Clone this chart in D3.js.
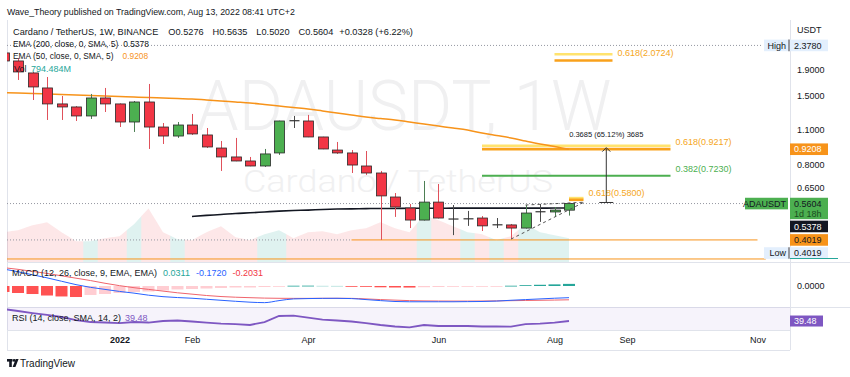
<!DOCTYPE html>
<html lang="en">
<head>
<meta charset="UTF-8">
<title>ADAUSDT, 1W</title>
<style>
  body { margin: 0; background: #ffffff; }
  svg { display: block; font-family: "Liberation Sans", Arial, sans-serif; }
</style>
</head>
<body>
<div id="chart"></div>
<script src="https://d3js.org/d3.v7.min.js"></script>
<script>
// weekly bars
var weeks = ["2021-11-08", "2021-11-15", "2021-11-22", "2021-11-29", "2021-12-06", "2021-12-13", "2021-12-20", "2021-12-27",
    "2022-01-03", "2022-01-10", "2022-01-17", "2022-01-24", "2022-01-31", "2022-02-07", "2022-02-14", "2022-02-21",
    "2022-02-28", "2022-03-07", "2022-03-14", "2022-03-21", "2022-03-28", "2022-04-04", "2022-04-11", "2022-04-18",
    "2022-04-25", "2022-05-02", "2022-05-09", "2022-05-16", "2022-05-23", "2022-05-30", "2022-06-06", "2022-06-13",
    "2022-06-20", "2022-06-27", "2022-07-04", "2022-07-11", "2022-07-18", "2022-07-25", "2022-08-01", "2022-08-08"];
var opens = [2.22, 2.063, 1.849, 1.612, 1.393, 1.355, 1.248, 1.471, 1.393, 1.181, 1.418, 1.128, 1.039, 1.149, 1.049, 0.931,
    0.858, 0.827, 0.790, 0.890, 1.198, 1.192, 1.030, 0.914, 0.890, 0.790, 0.741, 0.595, 0.538, 0.482, 0.568, 0.487,
    0.487, 0.491, 0.461, 0.461, 0.448, 0.519, 0.519, 0.5276];
var highs = [2.378, 2.120, 1.866, 1.782, 1.498, 1.367, 1.526, 1.612, 1.400, 1.431, 1.672, 1.170, 1.181, 1.271, 1.118, 0.993,
    1.021, 0.858, 0.923, 1.195, 1.248, 1.260, 1.032, 0.984, 0.914, 0.906, 0.755, 0.617, 0.558, 0.689, 0.670, 0.553,
    0.524, 0.500, 0.491, 0.465, 0.553, 0.558, 0.543, 0.5635];
var lows = [1.96, 1.734, 1.444, 1.203, 1.203, 1.192, 1.214, 1.294, 1.128, 1.078, 0.923, 0.966, 1.021, 1.049, 0.931, 0.755,
    0.825, 0.788, 0.783, 0.874, 1.118, 1.028, 0.921, 0.882, 0.741, 0.728, 0.4019, 0.496, 0.448, 0.480, 0.489, 0.420,
    0.457, 0.436, 0.448, 0.405, 0.446, 0.474, 0.496, 0.5020];
var closes = [2.063, 1.866, 1.627, 1.393, 1.355, 1.248, 1.471, 1.393, 1.181, 1.418, 1.128, 1.039, 1.149, 1.059, 0.940, 0.858,
    0.827, 0.790, 0.882, 1.192, 1.192, 1.030, 0.923, 0.890, 0.797, 0.741, 0.601, 0.543, 0.482, 0.568, 0.491, 0.486,
    0.488, 0.457, 0.462, 0.448, 0.514, 0.521, 0.528, 0.5604];
var volumes = [993.2, 1059.4, 1225.1, 1324.6, 993.0, 695.3, 695.8, 794.1, 861.5, 1258.2, 1787.4, 993.7, 761.2, 728.9, 993.4, 1192.6,
    828.3, 728.1, 927.5, 1059.0, 794.6, 993.9, 1026.3, 927.2, 1059.8, 1125.5, 1324.2, 1125.1, 993.6, 1556.3, 1390.7, 1192.4,
    993.1, 927.8, 728.4, 861.0, 1258.9, 993.3, 894.2, 794.484];
var ema50 = [1.545, 1.540, 1.532, 1.526, 1.519, 1.512, 1.505, 1.498, 1.491, 1.484, 1.478, 1.471, 1.464, 1.458, 1.444, 1.431,
    1.418, 1.405, 1.386, 1.367, 1.348, 1.330, 1.306, 1.282, 1.259, 1.236, 1.219, 1.203, 1.181, 1.159, 1.138, 1.118,
    1.097, 1.068, 1.044, 1.021, 0.993, 0.966, 0.945, 0.9208];
var ema200 = [null, null, null, null, null, null, null, null, null, null, null, null, null, 0.498, 0.503, 0.507,
    0.512, 0.515, 0.519, 0.523, 0.526, 0.528, 0.531, 0.533, 0.534, 0.535, 0.536, 0.536, 0.537, 0.537, 0.537, 0.5375,
    0.5375, 0.5375, 0.5376, 0.5376, 0.5377, 0.5377, 0.5378, 0.5378];
var macdHist = [-0.088, -0.103, -0.118, -0.140, -0.154, -0.162, -0.132, -0.118, -0.103, -0.088, -0.081, -0.066, -0.051, -0.044, -0.037, -0.029,
    -0.022, -0.022, -0.015, -0.007, 0.004, 0.005, 0.003, 0.002, -0.002, -0.012, -0.019, -0.022, -0.023, -0.018, -0.015, -0.012,
    -0.009, -0.006, -0.003, 0.004, 0.012, 0.018, 0.024, 0.0311];
var macdLine = [0.25, 0.21, 0.165, 0.12, 0.07, 0.02, -0.02, -0.05, -0.08, -0.105, -0.135, -0.157, -0.17, -0.18, -0.195, -0.21,
    -0.225, -0.238, -0.245, -0.215, -0.19, -0.185, -0.182, -0.181, -0.185, -0.2, -0.215, -0.228, -0.232, -0.232, -0.232, -0.232,
    -0.23, -0.228, -0.222, -0.21, -0.2, -0.19, -0.18, -0.172];
var macdSignal = [0.27, 0.245, 0.215, 0.185, 0.15, 0.115, 0.08, 0.04, 0.005, -0.025, -0.05, -0.075, -0.1, -0.12, -0.14, -0.155,
    -0.165, -0.172, -0.178, -0.181, -0.182, -0.182, -0.181, -0.181, -0.182, -0.19, -0.2, -0.208, -0.215, -0.219, -0.221, -0.222,
    -0.222, -0.221, -0.219, -0.216, -0.213, -0.21, -0.207, -0.2031];
var rsiValues = [58.4, 55.3, 52.1, 49.0, 45.8, 41.0, 37.9, 37.1, 36.3, 37.9, 37.1, 39.5, 40.3, 38.7, 37.1, 35.5,
    34.7, 33.2, 37.9, 47.4, 47.9, 45.0, 41.8, 40.3, 38.7, 36.3, 33.2, 30.8, 29.5, 33.2, 31.6, 31.6,
    31.6, 30.8, 30.8, 30.5, 34.7, 35.5, 37.1, 39.48];

// axis labels
var priceTicks = [1.9, 1.5, 1.1, 0.8, 0.65];
var monthTicks = ["2022-01-03", "2022-02-07", "2022-04-04", "2022-06-06", "2022-08-01", "2022-09-05", "2022-11-07"];
var monthLabels = ["2022", "Feb", "Apr", "Jun", "Aug", "Sep", "Nov"];

// drawings on the chart
var fibRatios = ["0.65", "0.618", "0.65", "0.618", "0.382", "0.65", "0.618"];
var fibPrices = [2.1930, 2.0724, 0.9510, 0.9217, 0.7230, 0.5890, 0.5800];
var fibFrom = ["2022-08-01", "2022-08-01", "2022-06-27", "2022-06-27", "2022-06-27", "2022-08-08", "2022-08-08"];
var fibTo = ["2022-08-29", "2022-08-29", "2022-09-26", "2022-09-26", "2022-09-26", "2022-08-15", "2022-08-15"];
var hLinePrices = [0.4019, 0.3377];
var hLineFrom = ["2022-04-25", "2021-11-01"];
var hLineTo = ["2022-11-07", "2022-11-11"];
var wedgeLower = [["2022-07-11", 0.405], ["2022-08-15", 0.566]];
var wedgeUpper = [["2022-07-18", 0.553], ["2022-08-15", 0.567]];
var measureDate = "2022-08-26";
var measureFrom = 0.5659, measureTo = 0.9344;
var measureText = "0.3685 (65.12%) 3685";

// layout
var left = 7, right = 790;
var mainTop = 20, mainBottom = 262;
var macdTop = 262, macdBottom = 307;
var rsiTop = 307, rsiBottom = 330, axisBottom = 350;

var ink = "#131722", line = "#e0e3eb";
var upCol = "#4caf50", downCol = "#f23645", emaCol = "#f7931a";

var parseDate = d3.utcParse("%Y-%m-%d");

var x = d3.scaleUtc().domain([parseDate("2021-11-08"), parseDate("2022-11-07")]).range([3.5, 757.5]);
var y = d3.scaleLog().domain([3.0, 0.3285]).range([mainTop, mainBottom]);
var yVol = d3.scaleLinear().domain([0, 3000]).range([mainBottom, 172]);
var yMacd = d3.scaleLinear().domain([0.353, -0.309]).range([macdTop, macdBottom]);
var yRsi = d3.scaleLinear().domain([61.6, 25.3]).range([rsiTop, rsiBottom]);

var bars = weeks.map(function(w, i) {
    return { date: parseDate(w), o: opens[i], h: highs[i], l: lows[i], c: closes[i], v: volumes[i],
             e50: ema50[i], e200: ema200[i], hist: macdHist[i], macd: macdLine[i], sig: macdSignal[i], rsi: rsiValues[i] };
});
var step = x(bars[1].date) - x(bars[0].date);
var last = bars[bars.length - 1];

var svg = d3.select("#chart").append("svg")
    .attr("width", 850)
    .attr("height", 377);
var defs = svg.append("defs");

function clipRect(id, x0, y0, x1, y1) {
    defs.append("clipPath").attr("id", id).append("rect")
        .attr("x", x0).attr("y", y0).attr("width", x1 - x0).attr("height", y1 - y0);
}
clipRect("clip-main", left, mainTop, right, mainBottom);
clipRect("clip-macd", left, macdTop, right, macdBottom);
clipRect("clip-rsi", left, rsiTop, right, rsiBottom);

// frame lines
function hline(g, yy, x0, x1, col, dash, w) {
    g.append("line").attr("x1", x0).attr("x2", x1).attr("y1", yy).attr("y2", yy)
        .attr("stroke", col).attr("stroke-width", w || 1).attr("stroke-dasharray", dash || null);
}
svg.append("line").attr("x1", right + 0.5).attr("x2", right + 0.5).attr("y1", mainTop).attr("y2", axisBottom).attr("stroke", line);
svg.append("line").attr("x1", left + 0.5).attr("x2", left + 0.5).attr("y1", mainTop).attr("y2", axisBottom).attr("stroke", line);
hline(svg, macdTop + 0.5, left, 850, line);
hline(svg, rsiTop + 0.5, left, 850, line);
hline(svg, rsiBottom + 0.5, left, right, line);
hline(svg, axisBottom + 0.5, left, right, line);

// main pane
var plot = svg.append("g").attr("clip-path", "url(#clip-main)");

// watermark
plot.append("text")
    .attr("x", 404).attr("y", 130).attr("text-anchor", "middle")
    .attr("font-family", "Roboto, sans-serif").attr("font-weight", 300).attr("font-size", 70)
    .attr("textLength", 415).attr("lengthAdjust", "spacingAndGlyphs")
    .attr("fill", "#f0f0f1").text("ADAUSDT, 1W");
plot.append("text")
    .attr("x", 398).attr("y", 192).attr("text-anchor", "middle")
    .attr("font-family", "Roboto, sans-serif").attr("font-weight", 300).attr("font-size", 31)
    .attr("textLength", 310).attr("lengthAdjust", "spacingAndGlyphs")
    .attr("fill", "#f0f0f1").text("Cardano / TetherUS");

// volume as a shaded area, coloured per bar
var volArea = d3.area()
    .x(function(d) { return x(d.date); })
    .y0(yVol(0))
    .y1(function(d) { return yVol(d.v); });
var volG = plot.append("g");
bars.forEach(function(d, i) {
    var id = "vclip" + i;
    clipRect(id, x(d.date) - step / 2, mainTop, x(d.date) + step / 2, mainBottom);
    volG.append("path").datum(bars)
        .attr("d", volArea)
        .attr("clip-path", "url(#" + id + ")")
        .attr("fill", d.c >= d.o ? "rgba(38,166,154,0.15)" : "rgba(242,54,69,0.12)");
});

// horizontal lines
var hiPrice = d3.max(highs), loPrice = d3.min(lows);
hline(plot, y(hiPrice), left, 763, "#9598a1", "1,2");
hline(plot, y(loPrice), left, x(parseDate(hLineFrom[0])), "#9598a1", "1,2");
hline(plot, y(last.c), left, 744, "#9598a1", "1,2");
hLinePrices.forEach(function(p, i) {
    hline(plot, y(p), x(parseDate(hLineFrom[i])), x(parseDate(hLineTo[i])), emaCol, null, 1);
});

// fib levels
fibPrices.forEach(function(p, i) {
    var r = fibRatios[i];
    var col = r === "0.382" ? "#4caf50" : (r === "0.65" ? "#ffe36e" : "#f9a11b");
    var x0 = x(parseDate(fibFrom[i])), x1 = x(parseDate(fibTo[i]));
    hline(plot, y(p), x0, x1, col, null, r === "0.382" ? 2 : 2.6);
});
// only the readable labels (the 0.65 ones hide under these in the original)
var fibLab = svg.append("g").attr("font-size", 9);
fibPrices.forEach(function(p, i) {
    var r = fibRatios[i];
    if (r === "0.65") return;
    fibLab.append("text")
        .attr("x", x(parseDate(fibTo[i])) + 5)
        .attr("y", y(p) - 4)
        .attr("fill", r === "0.382" ? "#4caf50" : "#f5a623")
        .text(r + "(" + p.toFixed(4) + ")");
});

// emas
var emaLine = function(key) {
    return d3.line()
        .defined(function(d) { return d[key] != null; })
        .x(function(d) { return x(d.date); })
        .y(function(d) { return y(d[key]); })
        .curve(d3.curveMonotoneX);
};
plot.append("path").datum(bars).attr("d", emaLine("e50"))
    .attr("fill", "none").attr("stroke", emaCol).attr("stroke-width", 1.5);
plot.append("path").datum(bars).attr("d", emaLine("e200"))
    .attr("fill", "none").attr("stroke", ink).attr("stroke-width", 1.6);

// candles
var bw = 10;
var cg = plot.selectAll(".candle").data(bars).enter().append("g").attr("class", "candle");
cg.each(function(d) {
    var g = d3.select(this);
    var cx = Math.round(x(d.date)) + 0.5;
    var up = d.c >= d.o;
    var doji = Math.abs(d.o - d.c) / d.o < 0.01;
    var wick = doji ? "#4a4a4a" : (up ? "#4d7f54" : "#e0515b");
    g.append("line").attr("x1", cx).attr("x2", cx).attr("y1", y(d.h)).attr("y2", y(d.l))
        .attr("stroke", wick).attr("stroke-width", 1);
    if (doji) {
        var yy = y((d.o + d.c) / 2);
        g.append("line").attr("x1", cx - bw / 2).attr("x2", cx + bw / 2).attr("y1", yy).attr("y2", yy)
            .attr("stroke", "#333").attr("stroke-width", 1.2);
    } else {
        var top = y(Math.max(d.o, d.c)), bot = y(Math.min(d.o, d.c));
        g.append("rect").attr("x", cx - bw / 2).attr("y", top).attr("width", bw).attr("height", Math.max(1, bot - top))
            .attr("fill", up ? upCol : downCol).attr("stroke", "#2a2a2a").attr("stroke-width", 0.8);
    }
});

// wedge lines
var wedge = d3.line()
    .x(function(d) { return x(parseDate(d[0])); })
    .y(function(d) { return y(d[1]); });
[wedgeLower, wedgeUpper].forEach(function(pts) {
    plot.append("path").attr("d", wedge(pts)).attr("fill", "none")
        .attr("stroke", "#555").attr("stroke-width", 1).attr("stroke-dasharray", "3,3");
});

// price range measure
var mx = x(parseDate(measureDate));
var my0 = y(measureFrom), my1 = y(measureTo);
plot.append("line").attr("x1", mx).attr("x2", mx).attr("y1", my0).attr("y2", my1 + 1).attr("stroke", "#333");
plot.append("line").attr("x1", mx - 7).attr("x2", mx + 7).attr("y1", my0).attr("y2", my0).attr("stroke", "#333");
plot.append("path").attr("d", "M" + (mx - 4) + "," + (my1 + 4) + "L" + mx + "," + my1 + "L" + (mx + 4) + "," + (my1 + 4))
    .attr("fill", "none").attr("stroke", "#333");
svg.append("text").attr("x", mx).attr("y", my1 - 11).attr("text-anchor", "middle")
    .attr("font-size", 7.5).attr("fill", ink).text(measureText);

// macd pane
var macdG = svg.append("g").attr("clip-path", "url(#clip-macd)");
macdG.selectAll("rect").data(bars).enter().append("rect")
    .attr("x", function(d) { return x(d.date) - 6; })
    .attr("width", 12)
    .attr("y", function(d) { return Math.min(yMacd(d.hist), yMacd(0)); })
    .attr("height", function(d) { return Math.max(0.8, Math.abs(yMacd(d.hist) - yMacd(0))); })
    .attr("fill", function(d, i) {
        var prev = i > 0 ? bars[i - 1].hist : 0;
        if (d.hist >= 0) return d.hist >= prev ? "#26a69a" : "#b2dfdb";
        return d.hist < prev ? "#ff5252" : "#ffcdd2";
    });
var macdPath = function(key) {
    return d3.line().x(function(d) { return x(d.date); }).y(function(d) { return yMacd(d[key]); }).curve(d3.curveMonotoneX);
};
macdG.append("path").datum(bars).attr("d", macdPath("sig")).attr("fill", "none").attr("stroke", "#f0646c").attr("stroke-width", 1);
macdG.append("path").datum(bars).attr("d", macdPath("macd")).attr("fill", "none").attr("stroke", "#2962ff").attr("stroke-width", 1);

// rsi pane
var rsiG = svg.append("g").attr("clip-path", "url(#clip-rsi)");
rsiG.append("rect").attr("x", left).attr("y", rsiTop).attr("width", right - left).attr("height", rsiBottom - rsiTop)
    .attr("fill", "rgba(126,87,194,0.07)");
rsiG.append("path").datum(bars)
    .attr("d", d3.line().x(function(d) { return x(d.date); }).y(function(d) { return yRsi(d.rsi); }))
    .attr("fill", "none").attr("stroke", "#7e57c2").attr("stroke-width", 1.8);

// legends
var leg = svg.append("g").attr("font-size", 9).attr("fill", ink);
leg.append("text").attr("x", 7).attr("y", 15).attr("font-size", 8.8)
    .text("Wave_Theory published on TradingView.com, Aug 13, 2022 08:41 UTC+2");
var t2 = leg.append("text").attr("x", 13).attr("y", 35).attr("font-size", 9.2);
t2.append("tspan").text("Cardano / TetherUS, 1W, BINANCE");
t2.append("tspan").attr("dx", 10).text("O" + last.o.toFixed(4));
t2.append("tspan").attr("dx", 9).text("H" + last.h.toFixed(4));
t2.append("tspan").attr("dx", 9).text("L" + last.l.toFixed(4));
t2.append("tspan").attr("dx", 9).text("C" + last.c.toFixed(4));
t2.append("tspan").attr("dx", 6).text("+0.0328 (+6.22%)");
var t3 = leg.append("text").attr("x", 13).attr("y", 47).attr("font-size", 8.4);
t3.append("tspan").text("EMA (200, close, 0, SMA, 5)");
t3.append("tspan").attr("dx", 5).text(last.e200.toFixed(4));
var t4 = leg.append("text").attr("x", 13).attr("y", 59).attr("font-size", 8.4);
t4.append("tspan").text("EMA (50, close, 0, SMA, 5)");
t4.append("tspan").attr("dx", 9).attr("fill", emaCol).text(last.e50.toFixed(4));
leg.append("text").attr("x", 14).attr("y", 72).text("Vol");
leg.append("text").attr("x", 31).attr("y", 72).attr("fill", "#26a69a").text(last.v.toFixed(3) + "M");

var t5 = leg.append("text").attr("x", 12).attr("y", 275.5);
t5.append("tspan").text("MACD (12, 26, close, 9, EMA, EMA)");
t5.append("tspan").attr("dx", 6).attr("fill", "#26a69a").text(last.hist.toFixed(4));
t5.append("tspan").attr("dx", 6).attr("fill", "#2962ff").text(last.macd.toFixed(4));
t5.append("tspan").attr("dx", 6).attr("fill", "#f23645").text(last.sig.toFixed(4));
var t6 = leg.append("text").attr("x", 12).attr("y", 321);
t6.append("tspan").text("RSI (14, close, SMA, 14, 2)");
t6.append("tspan").attr("dx", 4).attr("fill", "#7e57c2").text(last.rsi.toFixed(2));

// right axis
function styleAxis(g) {
    g.attr("font-family", null).attr("font-size", 9);
    g.select(".domain").remove();
    g.selectAll("text").attr("fill", ink);
}
svg.append("g").attr("transform", "translate(" + right + ",0)")
    .call(d3.axisRight(y).tickValues(priceTicks).tickFormat(d3.format(".4f")).tickSize(0).tickPadding(7))
    .call(styleAxis);
svg.append("g").attr("transform", "translate(" + right + ",0)")
    .call(d3.axisRight(yMacd).tickValues([0]).tickFormat(d3.format(".4f")).tickSize(0).tickPadding(7))
    .call(styleAxis);
svg.append("text").attr("x", 797).attr("y", 33).attr("font-size", 9).attr("fill", ink).text("USDT");

// bottom axis
svg.append("g").attr("transform", "translate(0," + rsiBottom + ")")
    .call(d3.axisBottom(x).tickValues(monthTicks.map(parseDate))
        .tickFormat(function(d, i) { return monthLabels[i]; }).tickSize(0).tickPadding(7))
    .call(styleAxis)
    .selectAll("text").attr("font-weight", function(d, i) { return i === 0 ? "bold" : null; });

// price tags on the right scale, stacked so they do not overlap
var tags = [
    { price: hiPrice, text: hiPrice.toFixed(4), bg: "#e3effd", fg: ink, side: "High" },
    { price: last.e50, text: last.e50.toFixed(4), bg: emaCol, fg: "#fff" },
    { price: last.c, text: last.c.toFixed(4), sub: "1d 18h", bg: "#4caf50", fg: ink, side: "ADAUSDT", sideBg: "#4caf50" },
    { price: last.e200, text: last.e200.toFixed(4), bg: ink, fg: "#fff" },
    { price: hLinePrices[0], text: hLinePrices[0].toFixed(4), bg: emaCol, fg: ink },
    { price: loPrice, text: loPrice.toFixed(4), bg: "#e3effd", fg: ink, side: "Low" }
];
var th = 11.6, prevBottom = -Infinity;
var tagG = svg.append("g").attr("font-size", 9);
tags.forEach(function(t) {
    var h = t.sub ? 21.4 : th;
    var top = Math.max(y(t.price) - th / 2, prevBottom + 1.5);
    prevBottom = top + h;
    tagG.append("rect").attr("x", right).attr("y", top).attr("width", 38).attr("height", h).attr("fill", t.bg);
    tagG.append("text").attr("x", right + 4).attr("y", top + th / 2).attr("dy", "0.35em").attr("fill", t.fg).text(t.text);
    if (t.sub) {
        tagG.append("text").attr("x", right + 4).attr("y", top + th / 2 + 10).attr("dy", "0.35em")
            .attr("fill", "#1b4d1f").text(t.sub);
    }
    if (t.side) {
        var w = t.side === "ADAUSDT" ? 43 : 24;
        tagG.append("rect").attr("x", right - 2 - w).attr("y", top).attr("width", w).attr("height", th)
            .attr("fill", t.sideBg || t.bg);
        tagG.append("text").attr("x", right - 4).attr("y", top + th / 2).attr("dy", "0.35em")
            .attr("text-anchor", "end").attr("fill", ink).text(t.side);
        if (!t.sideBg) {
            tagG.append("line").attr("x1", right - 1).attr("x2", right - 1).attr("y1", top).attr("y2", top + th)
                .attr("stroke", "#50535e").attr("stroke-width", 1.2);
        }
    }
});
hline(svg, 258.5, right, 838, "#26a69a", null, 1);

// rsi tag
var rsiY = yRsi(last.rsi);
svg.append("rect").attr("x", right).attr("y", rsiY - 5.5).attr("width", 33).attr("height", 11).attr("fill", "#7e57c2");
svg.append("text").attr("x", right + 4).attr("y", rsiY).attr("dy", "0.35em").attr("font-size", 9)
    .attr("fill", "#fff").text(last.rsi.toFixed(2));

// tradingview mark
var logo = svg.append("g").attr("fill", ink);
logo.append("rect").attr("x", 7).attr("y", 359).attr("width", 5.5).attr("height", 2.6);
logo.append("rect").attr("x", 9.2).attr("y", 359).attr("width", 2.6).attr("height", 8);
logo.append("circle").attr("cx", 14.2).attr("cy", 360.4).attr("r", 1.4);
logo.append("path").attr("d", "M15.8,359 L18.6,359 L15.4,367 L12.6,367 Z");
svg.append("text").attr("x", 20).attr("y", 366.5).attr("font-size", 10).attr("fill", ink).text("TradingView");
</script>
</body>
</html>
